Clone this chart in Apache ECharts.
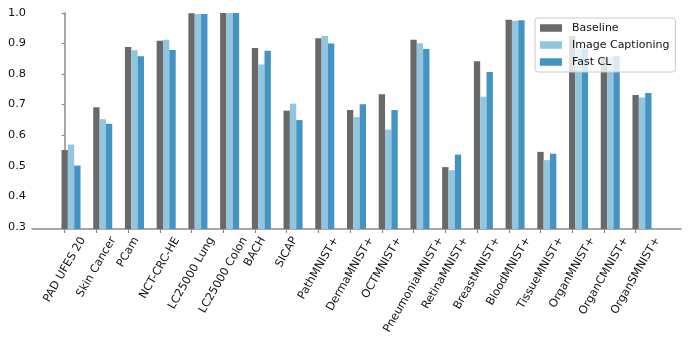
<!DOCTYPE html>
<html>
<head>
<meta charset="utf-8">
<script src="https://cdn.jsdelivr.net/npm/echarts@6/dist/echarts.min.js"></script>
<style>
html,body{margin:0;padding:0;background:#fff;}
#chart{width:689px;height:345px;}
</style>
</head>
<body>
<div id="chart"></div>
<script>
const categories = ['PAD UFES 20','Skin Cancer','PCam','NCT-CRC-HE','LC25000 Lung','LC25000 Colon','BACH','SICAP','PathMNIST+','DermaMNIST+','OCTMNIST+','PneumoniaMNIST+','RetinaMNIST+','BreastMNIST+','BloodMNIST+','TissueMNIST+','OrganMNIST+','OrganCMNIST+','OrganSMNIST+'];
const baseline = [0.551,0.691,0.889,0.909,0.999,1.0,0.885,0.680,0.917,0.682,0.734,0.912,0.495,0.842,0.978,0.545,0.925,0.857,0.731];
const imageCaptioning = [0.569,0.652,0.878,0.912,0.997,1.0,0.831,0.703,0.925,0.659,0.618,0.901,0.485,0.726,0.975,0.518,0.884,0.857,0.723];
const fastCL = [0.500,0.637,0.858,0.879,0.997,1.0,0.876,0.649,0.900,0.701,0.682,0.882,0.536,0.807,0.976,0.539,0.884,0.859,0.738];
const seriesNames = ['Baseline','Image Captioning','Fast CL'];
const yTicks = [0.3,0.4,0.5,0.6,0.7,0.8,0.9,1.0];

const colors = ['#696969','#92c5de','#4393c3'];
const W = 689, H = 345;
const gridLeft = 32, gridRight = 8, gridTop = 13, gridBottom = 116;
const barW = 0.2;
const xMin = -1.03, xMax = 19.43;
const pxPerUnit = (W - gridLeft - gridRight) / (xMax - xMin);
const fontFamily = '"DejaVu Sans", sans-serif';
const labelFontSize = 11.3;
const spineColor = '#8a8a8a';

const ctx = document.createElement('canvas').getContext('2d');
ctx.font = labelFontSize + 'px "DejaVu Sans"';
const tickPos = categories.map((c, i) => i);
const labelPos = categories.map((c, i) => i + (ctx.measureText(c).width / 4) / pxPerUnit);

function nearestLabel(v) {
  let best = 0, bd = Infinity;
  labelPos.forEach((p, j) => { const d = Math.abs(p - v); if (d < bd) { bd = d; best = j; } });
  return categories[best];
}

const allData = [baseline, imageCaptioning, fastCL];
const series = allData.map((arr, k) => ({
  name: seriesNames[k],
  type: 'bar',
  barWidth: barW * pxPerUnit,
  barGap: '-100%',
  itemStyle: { color: colors[k] },
  emphasis: { disabled: true },
  data: arr.map((v, i) => [i + k * barW, v])
}));

const chart = echarts.init(document.getElementById('chart'), null, { renderer: 'canvas' });
chart.setOption({
  animation: false,
  backgroundColor: '#ffffff',
  textStyle: { fontFamily: fontFamily },
  grid: { left: gridLeft, right: gridRight, top: gridTop, bottom: gridBottom, containLabel: false },
  legend: {
    orient: 'vertical',
    left: 535, top: 18,
    padding: [3, 6, 3, 5],
    itemWidth: 22, itemHeight: 7.5, itemGap: 3,
    icon: 'rect',
    backgroundColor: 'rgba(255,255,255,0.8)',
    borderColor: '#cccccc', borderWidth: 1, borderRadius: 3,
    textStyle: { fontFamily: fontFamily, fontSize: 11, color: '#111', padding: [0, 0, 0, 5], lineHeight: 14 },
    data: seriesNames
  },
  xAxis: {
    type: 'value',
    min: xMin, max: xMax,
    splitLine: { show: false },
    axisLine: { show: true, onZero: false, lineStyle: { color: spineColor, width: 1.5 } },
    axisTick: { show: true, customValues: tickPos, length: 4, lineStyle: { color: spineColor, width: 1.2 } },
    axisLabel: {
      customValues: labelPos,
      rotate: 60,
      margin: 9,
      fontFamily: fontFamily, fontSize: labelFontSize, color: '#111',
      formatter: v => nearestLabel(v)
    }
  },
  yAxis: {
    type: 'value',
    min: 0.2923, max: 1.0,
    splitLine: { show: false },
    axisLine: { show: true, lineStyle: { color: spineColor, width: 1.5 } },
    axisTick: { show: true, customValues: yTicks, length: 3, lineStyle: { color: spineColor, width: 1.2 } },
    axisLabel: {
      customValues: yTicks,
      margin: 6,
      fontFamily: fontFamily, fontSize: labelFontSize, color: '#111',
      formatter: v => v.toFixed(1)
    }
  },
  series: series
});
</script>
</body>
</html>
